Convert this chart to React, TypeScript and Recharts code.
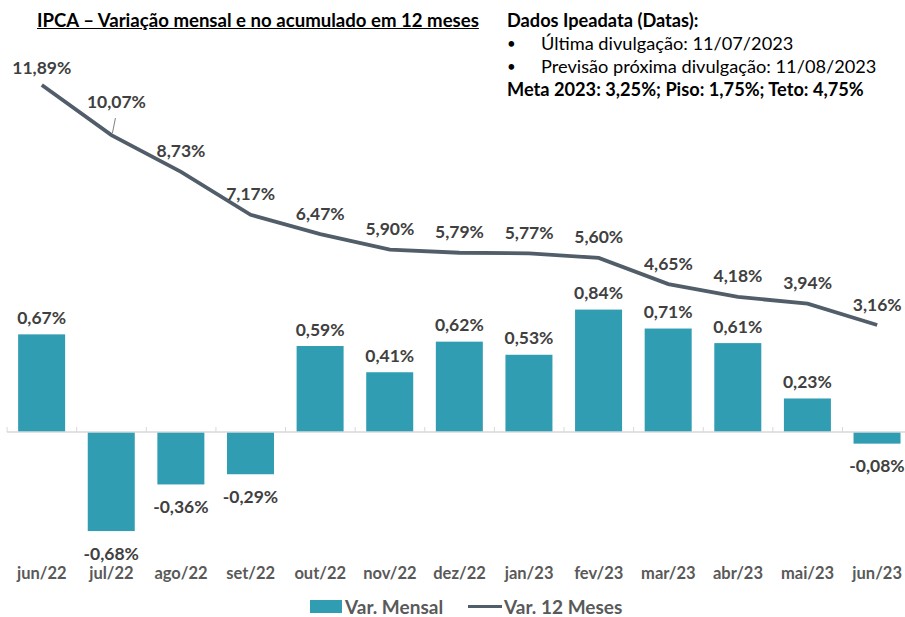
import React from "react";
import { ComposedChart, Bar, Line, XAxis, YAxis, ReferenceLine, LabelList } from "recharts";

const months = ["jun/22", "jul/22", "ago/22", "set/22", "out/22", "nov/22", "dez/22", "jan/23", "fev/23", "mar/23", "abr/23", "mai/23", "jun/23"];
const varMensal = [0.67, -0.68, -0.36, -0.29, 0.59, 0.41, 0.62, 0.53, 0.84, 0.71, 0.61, 0.23, -0.08];
const var12Meses = [11.89, 10.07, 8.73, 7.17, 6.47, 5.9, 5.79, 5.77, 5.6, 4.65, 4.18, 3.94, 3.16];

const seriesNames = { mensal: "Var. Mensal", acum: "Var. 12 Meses" };
const titleText = "IPCA – Variação mensal e no acumulado em 12 meses";
const infoTitle = "Dados Ipeadata (Datas):";
const infoLines = ["Última divulgação: 11/07/2023", "Previsão próxima divulgação: 11/08/2023"];
const metaText = "Meta 2023: 3,25%; Piso: 1,75%; Teto: 4,75%";

const data = months.map((m, i) => ({ month: m, mensal: varMensal[i], acum: var12Meses[i] }));

const BAR_COLOR = "#319DB2";
const LINE_COLOR = "#515E6A";
const LABEL_COLOR = "#404040";
const FONT = "Lato, 'Open Sans', sans-serif";
const GAP = 0.16;

const fmt = (v: number) => v.toFixed(2).replace(".", ",") + "%";

const BarShape = (props: any) => {
  const { x, y, width, height, index } = props;
  const top = Math.min(y, y + height);
  const h = Math.abs(height);
  const v = props.payload?.mensal ?? 0;
  const zeroY = v >= 0 ? top + h : top;
  const band = width / (1 - 2 * GAP);
  const cx = x + width / 2;
  const left = cx - band / 2;
  const right = cx + band / 2;
  return (
    <g>
      <rect x={x} y={top} width={width} height={h} fill={BAR_COLOR} />
      <line x1={left} x2={left} y1={zeroY - 5} y2={zeroY} stroke="#d9d9d9" strokeWidth={1} />
      {index === months.length - 1 && (
        <line x1={right} x2={right} y1={zeroY - 5} y2={zeroY} stroke="#d9d9d9" strokeWidth={1} />
      )}
    </g>
  );
};

const BarLabel = (props: any) => {
  const { x, y, width, height, value } = props;
  const top = Math.min(y, y + height);
  const bottom = Math.max(y, y + height);
  const cx = x + width / 2;
  const cy = value >= 0 ? top - 17 : bottom + 22;
  return (
    <text x={cx} y={cy} textAnchor="middle" dominantBaseline="central" fill={LABEL_COLOR} fontFamily={FONT} fontWeight={700} fontSize={17.5}>
      {fmt(value)}
    </text>
  );
};

const LineLabel = (props: any) => {
  const { x, y, value, index } = props;
  let dy = -21;
  let dx = 0;
  if (index === 0) dy = -18;
  if (index === 1) { dy = -34; dx = 5; }
  return (
    <g>
      {index === 1 && <line x1={x + 1} y1={y - 2} x2={x + 4} y2={y - 17} stroke="#7f7f7f" strokeWidth={1} />}
      <text x={x + dx} y={y + dy} textAnchor="middle" dominantBaseline="central" fill={LABEL_COLOR} fontFamily={FONT} fontWeight={700} fontSize={17.5}>
        {fmt(value)}
      </text>
    </g>
  );
};

const XTick = (props: any) => {
  const { x, y, payload } = props;
  return (
    <text x={x} y={y + 33} textAnchor="middle" dominantBaseline="central" fill="#595959" fontFamily={FONT} fontWeight={700} fontSize={16.5}>
      {payload.value}
    </text>
  );
};

export default function App() {
  return (
    <div style={{ position: "absolute", left: 0, top: 0, width: 905, height: 617, overflow: "hidden", background: "#fff", fontFamily: FONT }}>
      <ComposedChart
        width={920}
        height={617}
        data={data}
        margin={{ top: 60, right: 8, bottom: 47, left: 7 }}
        barCategoryGap={`${GAP * 100}%`}
      >
        <XAxis dataKey="month" axisLine={false} tickLine={false} tickSize={0} tickMargin={0} height={30} tick={<XTick />} interval={0} />
        <YAxis yAxisId="bar" hide domain={[-0.7413, 2.553]} />
        <YAxis yAxisId="line" hide domain={[-4.66, 12.801]} />
        <ReferenceLine yAxisId="bar" y={0} stroke="#d9d9d9" strokeWidth={1.5} />
        <Bar yAxisId="bar" dataKey="mensal" name={seriesNames.mensal} fill={BAR_COLOR} shape={<BarShape />} isAnimationActive={false}>
          <LabelList dataKey="mensal" content={<BarLabel />} />
        </Bar>
        <Line yAxisId="line" dataKey="acum" name={seriesNames.acum} stroke={LINE_COLOR} strokeWidth={3.8} dot={false} type="linear" isAnimationActive={false}>
          <LabelList dataKey="acum" content={<LineLabel />} />
        </Line>
      </ComposedChart>

      <div style={{ position: "absolute", left: 37, top: 8, fontSize: 18.6, fontWeight: 700, color: "#000", textDecoration: "underline", whiteSpace: "nowrap", lineHeight: "24px" }}>
        {titleText}
      </div>

      <div style={{ position: "absolute", left: 507, top: 9, color: "#000", whiteSpace: "nowrap", lineHeight: "23px", fontSize: 18.2 }}>
        <div style={{ fontWeight: 700 }}>{infoTitle}</div>
        {infoLines.map((t) => (
          <div key={t} style={{ position: "relative", paddingLeft: 34 }}>
            <span style={{ position: "absolute", left: 0, fontSize: 15 }}>•</span>
            {t}
          </div>
        ))}
        <div style={{ fontWeight: 700 }}>{metaText}</div>
      </div>

      <div style={{ position: "absolute", left: 310, top: 597, height: 19, display: "flex", alignItems: "center", whiteSpace: "nowrap", fontSize: 19, fontWeight: 700, color: "#595959", lineHeight: "19px" }}>
        <span style={{ display: "inline-block", width: 32, height: 13, background: BAR_COLOR, marginRight: 3 }} />
        <span>{seriesNames.mensal}</span>
        <span style={{ display: "inline-block", width: 34, height: 3, background: LINE_COLOR, marginLeft: 25, marginRight: 2 }} />
        <span>{seriesNames.acum}</span>
      </div>
    </div>
  );
}
